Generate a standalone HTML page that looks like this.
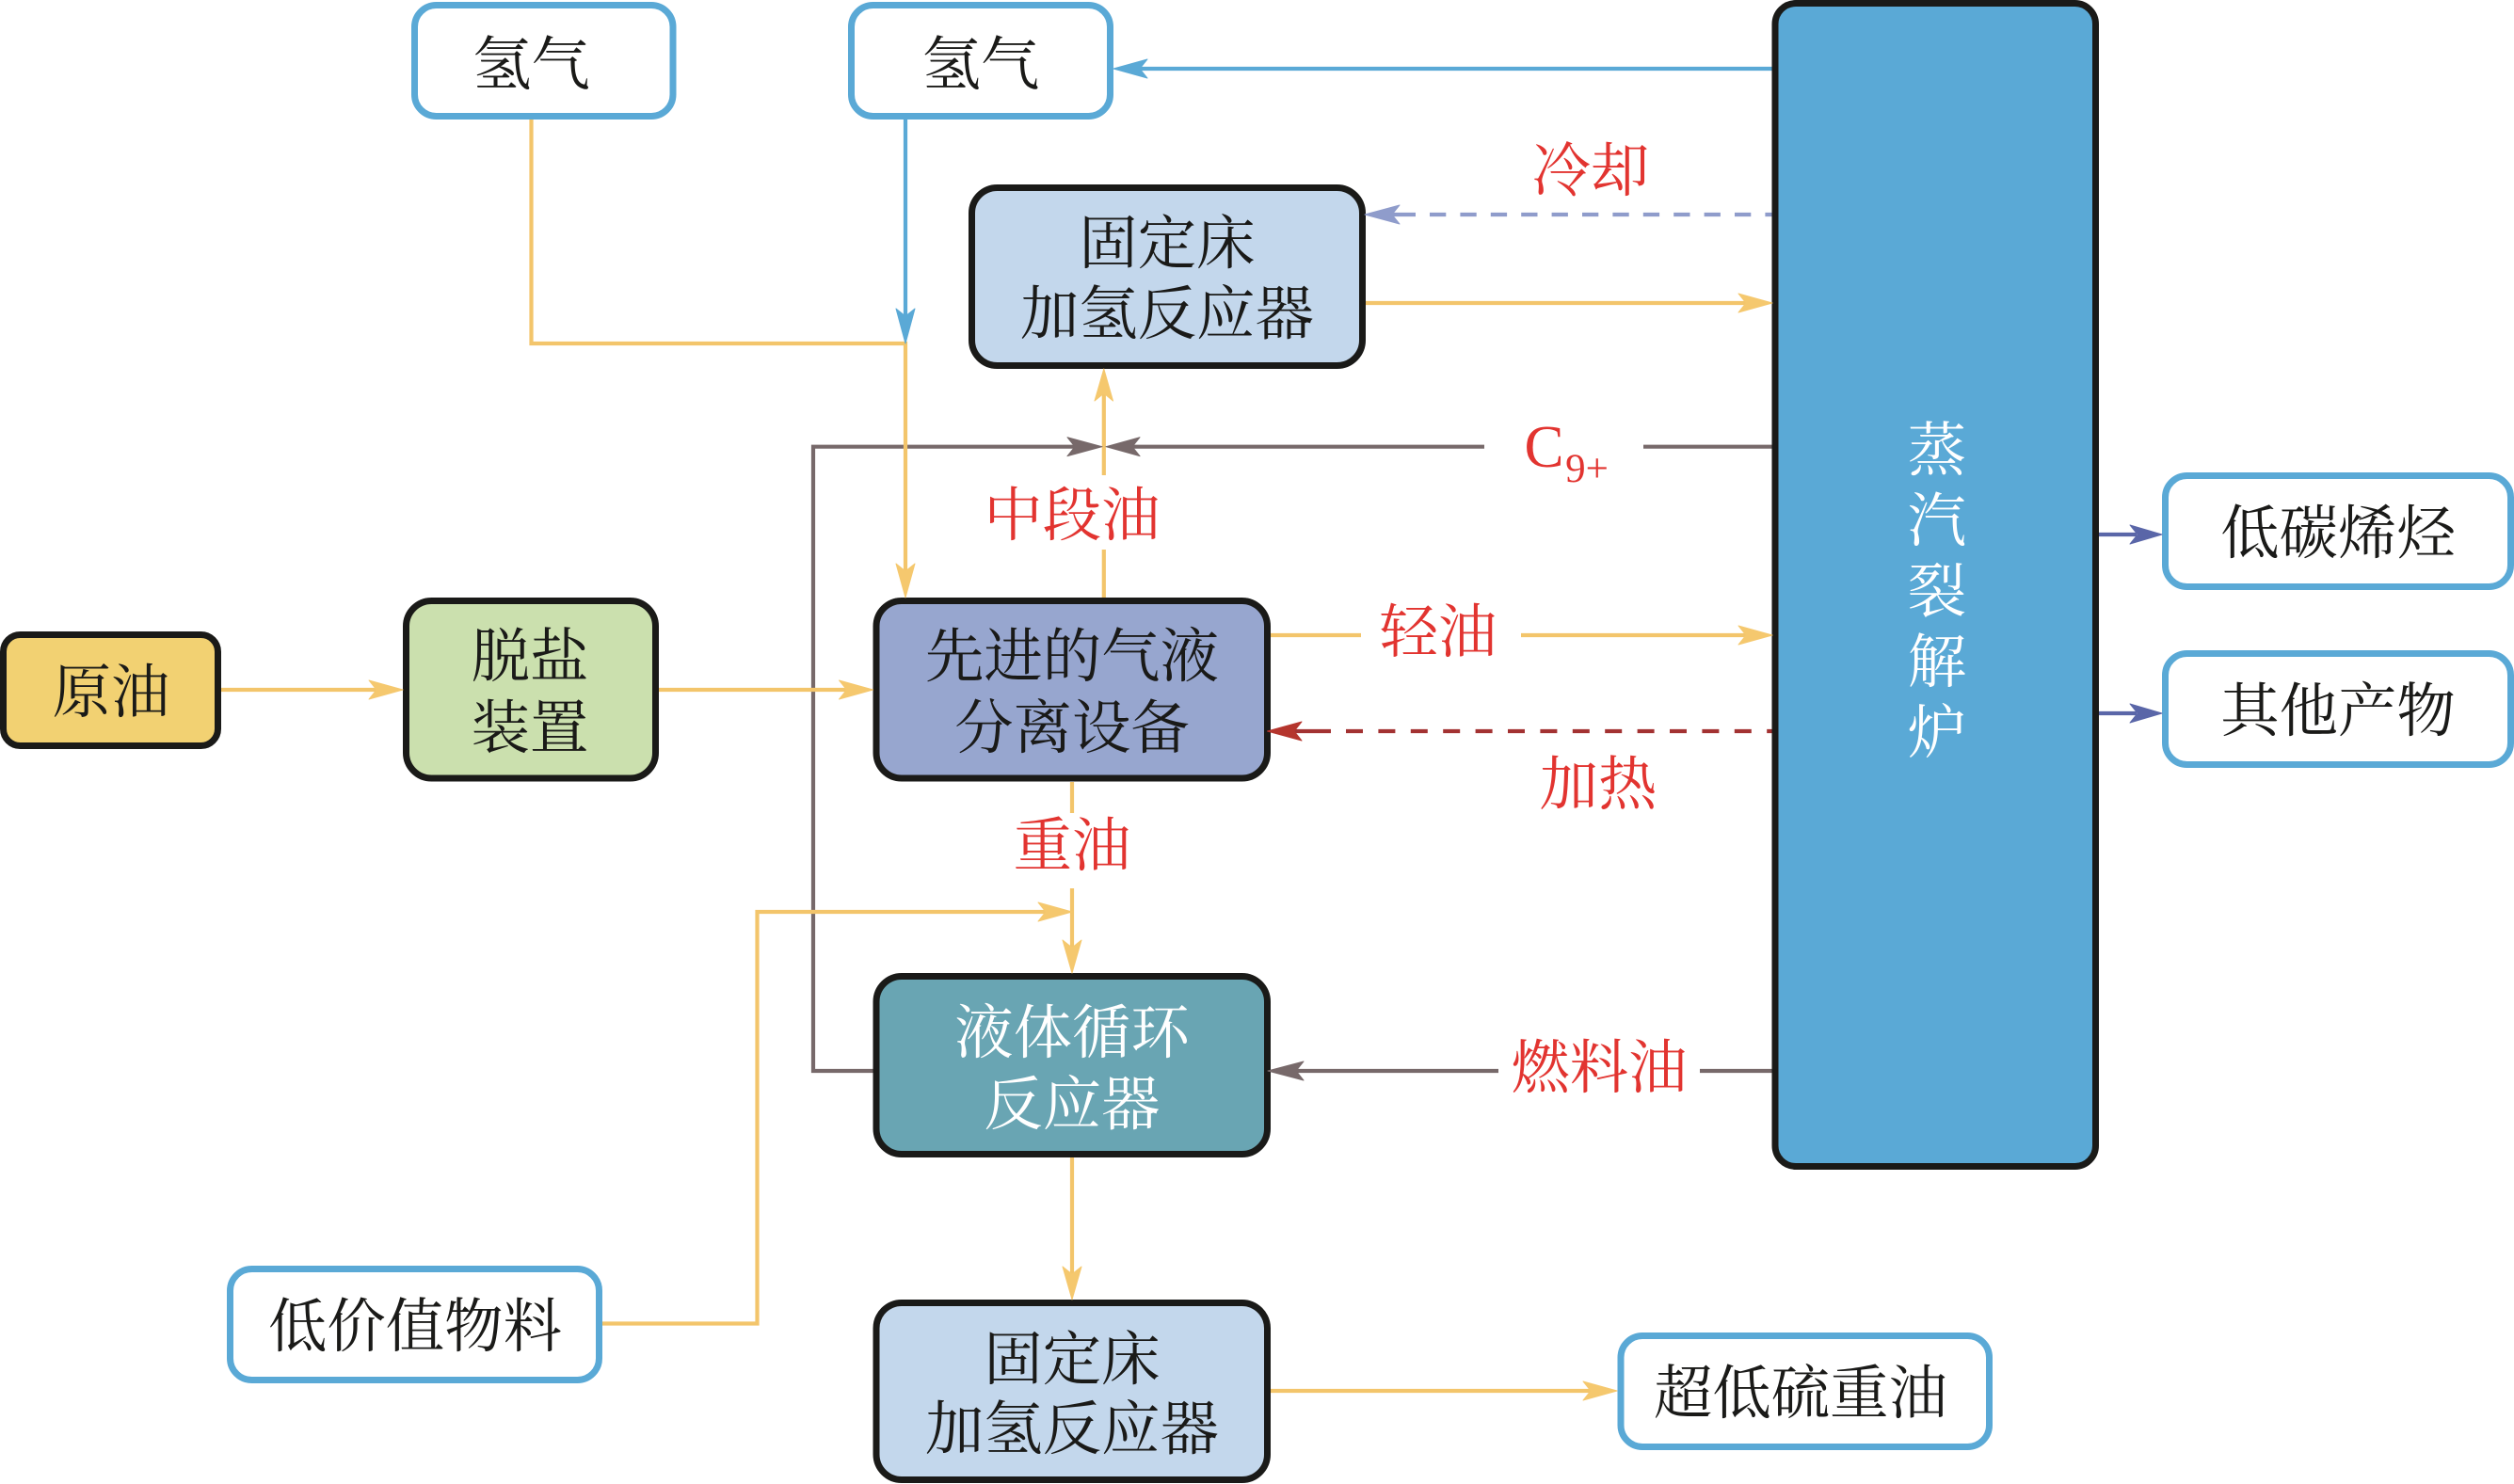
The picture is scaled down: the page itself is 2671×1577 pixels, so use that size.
<!DOCTYPE html>
<html><head><meta charset="utf-8"><style>
html,body{margin:0;padding:0;background:#fff}
svg{display:block}
text{font-family:"Liberation Serif","Noto Serif CJK SC",serif;font-size:62.4px;text-anchor:middle;fill:#1a1a18}
.t text{transform:translateY(1px)}
.r{fill:#e23430}.w{fill:#fff}
.y{stroke:#f3c56b}.b{stroke:#5aa9d6}.g{stroke:#77696a}
.l{fill:none;stroke-width:4.2}
.k{stroke:#1a1a18;stroke-width:7}.o{fill:#fff;stroke:#5aa9d6;stroke-width:7}
.h polygon{stroke-width:1;stroke-linejoin:round}
</style></head><body>
<svg width="2671" height="1577" viewBox="0 0 2671 1577" xmlns="http://www.w3.org/2000/svg">
<rect width="2671" height="1577" fill="#fff"/>
<!-- connectors -->
<path class="l g" d="M1145 474.7H864V1138H930"/>
<path class="l g" d="M1883 474.7H1746M1577 474.7H1200"/>
<path class="l y" d="M564.5 126V365H962V612"/>
<path class="l b" d="M962 126V340"/>
<path class="l y" d="M1172.8 635V584M1172.8 505V415"/>
<path class="l b" d="M1883 73H1210"/>
<path class="l" stroke="#8f9ccb" d="M1475 228H1504"/>
<path class="l" stroke="#8f9ccb" stroke-dasharray="17.3 15.1" d="M1519 228H1884"/>
<path class="l y" d="M1451 322H1855"/>
<path class="l y" d="M1349 675H1446M1616 675H1855"/>
<path class="l" stroke="#a33232" d="M1372 777H1414"/>
<path class="l" stroke="#a33232" stroke-dasharray="18 16.4" d="M1430 777H1884"/>
<path class="l g" d="M1883 1138H1806M1592 1138H1375"/>
<path class="l" stroke="#5a66a8" d="M2230 568H2270M2230 758H2270"/>
<path class="l y" d="M235 733H402M700 733H902"/>
<path class="l y" d="M1139 831V864M1139 944V1010"/>
<path class="l y" d="M640 1406.5H804.5V969H1112"/>
<path class="l y" d="M1139 1230V1355"/>
<path class="l y" d="M1350 1478H1692"/>
<!-- boxes -->
<rect class="o" x="440.5" y="5.5" width="274.5" height="118" rx="23"/>
<rect class="o" x="904.5" y="5.5" width="275" height="118" rx="23"/>
<rect class="k" fill="#f2d172" x="3.5" y="674.5" width="228" height="118" rx="18"/>
<rect class="k" fill="#cbe0ae" x="431.5" y="638.5" width="265" height="188.5" rx="27"/>
<rect class="k" fill="#97a6cf" x="931" y="638.5" width="415.5" height="188.5" rx="27"/>
<rect class="k" fill="#c3d7ec" x="1032.5" y="199.5" width="415" height="189" rx="27"/>
<rect class="k" fill="#5aa9d6" x="1886" y="3.5" width="340.5" height="1236" rx="22"/>
<rect class="k" fill="#69a5b3" x="931" y="1037.5" width="415.5" height="189" rx="27"/>
<rect class="k" fill="#c3d7ec" x="931" y="1384.5" width="415.5" height="188" rx="27"/>
<rect class="o" x="244.5" y="1348.5" width="392" height="118" rx="23"/>
<rect class="o" x="1722" y="1419.5" width="391.5" height="118" rx="23"/>
<rect class="o" x="2300.5" y="505.5" width="367" height="118" rx="23"/>
<rect class="o" x="2300.5" y="694.5" width="367" height="118" rx="23"/>
<!-- arrowheads -->
<g class="h" fill="#5aa9d6" stroke="#5aa9d6">
<polygon points="962,365 952,328 962,336 972,328"/>
<polygon points="1183,73 1219,63 1211,73 1219,83"/>
</g>
<g class="h" fill="#f5c86e" stroke="#f5c86e">
<polygon points="962,635 952,599 962,607 972,599"/>
<polygon points="1172.8,392 1163,426 1172.8,418 1182.5,426"/>
<polygon points="1883,322 1847,312 1855,322 1847,332"/>
<polygon points="1883,675 1847,665 1855,675 1847,685"/>
<polygon points="428,733 392,723 400,733 392,743"/>
<polygon points="927.5,733 891.5,723 899.5,733 891.5,743"/>
<polygon points="1139,969 1103,959 1111,969 1103,979"/>
<polygon points="1139,1034 1129,999 1139,1007 1149,999"/>
<polygon points="1139,1381 1129,1346 1139,1354 1149,1346"/>
<polygon points="1718,1478 1682,1468 1690,1478 1682,1488"/>
</g>
<g class="h" fill="#8f9ccb" stroke="#8f9ccb"><polygon points="1450,228 1487,218 1479,228 1487,238"/></g>
<g class="h" fill="#b5352d" stroke="#b5352d"><polygon points="1346.5,777 1383,767 1375,777 1383,787"/></g>
<g class="h" fill="#77696a" stroke="#77696a">
<polygon points="1171,474.7 1134,464.7 1142,474.7 1134,484.7"/>
<polygon points="1175,474.7 1211,464.7 1203,474.7 1211,484.7"/>
<polygon points="1347,1138 1385,1128 1377,1138 1385,1148"/>
</g>
<g class="h" fill="#5a66a8" stroke="#5a66a8">
<polygon points="2297,568 2263,558 2271,568 2263,578"/>
<polygon points="2297,758 2263,748 2271,758 2263,768"/>
</g>
<!-- node text -->
<g class="t">
<text x="564.5" y="89">氢气</text>
<text x="1042" y="89">氢气</text>
<text x="118" y="756">原油</text>
<text x="563" y="718">脱盐</text>
<text x="563" y="794">装置</text>
<text x="1139" y="718">先进的气液</text>
<text x="1139" y="794">分离设备</text>
<text x="1240" y="279">固定床</text>
<text x="1240" y="354">加氢反应器</text>
<text class="w" x="1139" y="1118">液体循环</text>
<text class="w" x="1139" y="1194">反应器</text>
<text x="1139" y="1465">固定床</text>
<text x="1139" y="1539">加氢反应器</text>
<text x="441" y="1430">低价值物料</text>
<text x="1913" y="1501">超低硫重油</text>
<text x="2484" y="587">低碳烯烃</text>
<text x="2484" y="776">其他产物</text>
<text class="w" x="2058" y="499">蒸</text>
<text class="w" x="2058" y="574">汽</text>
<text class="w" x="2058" y="649">裂</text>
<text class="w" x="2058" y="724">解</text>
<text class="w" x="2058" y="799">炉</text>
<!-- labels -->
<text class="r" x="1690" y="202">冷却</text>
<text class="r" x="1139" y="568">中段油</text>
<text class="r" x="1528" y="692">轻油</text>
<text class="r" x="1698" y="854">加热</text>
<text class="r" x="1139" y="919">重油</text>
<text class="r" x="1699" y="1155">燃料油</text>
</g>
<text class="r" x="1640.5" y="496" style="font-size:63px">C</text>
<text class="r" x="1686" y="512" style="font-size:43px">9+</text>
</svg>
</body></html>
